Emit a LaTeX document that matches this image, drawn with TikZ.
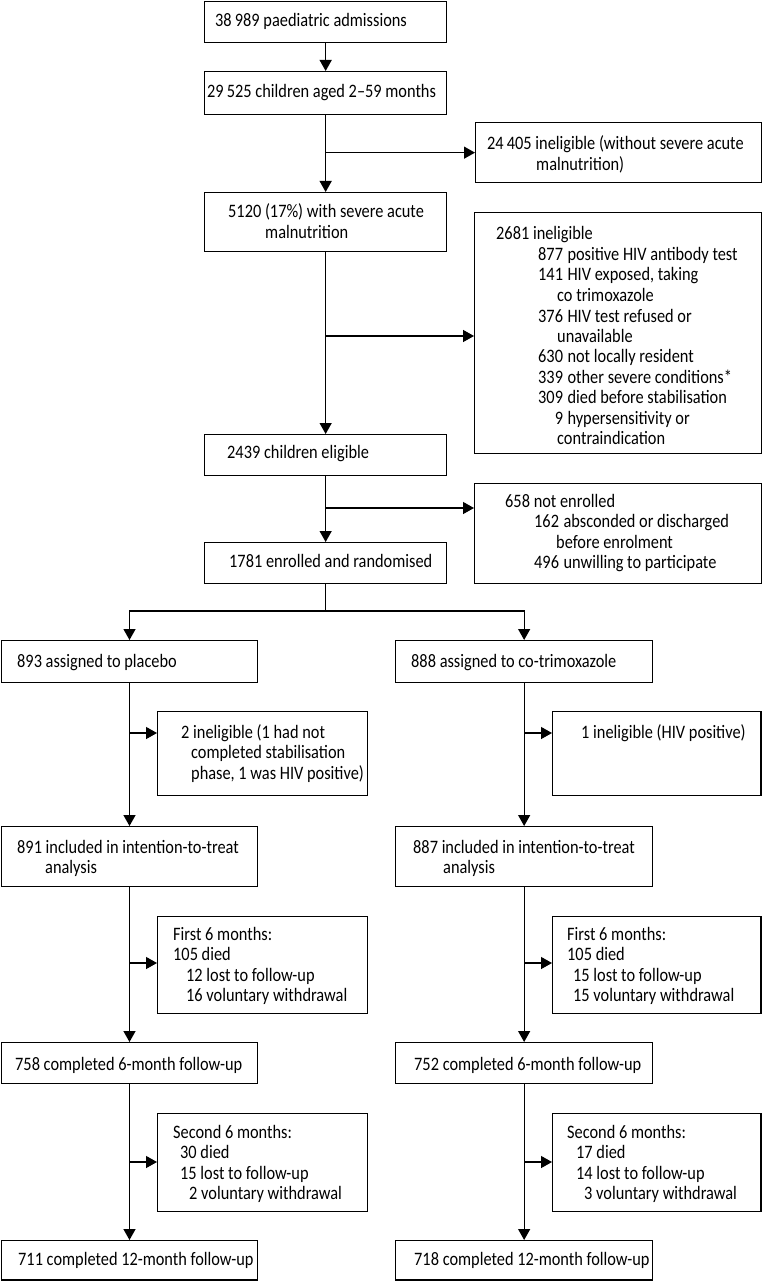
\documentclass[tikz,border=0pt]{standalone}
\usepackage{fontspec}
\setmainfont{Carlito}[FakeStretch=0.86]
\usetikzlibrary{arrows.meta}
\tikzset{
  box/.style={draw=black, line width=1.3pt, inner sep=0pt, anchor=north west},
  txt/.style={inner sep=0pt, anchor=base west, align=left},
  link/.style={draw=black, line width=1.3pt},
  arr/.style={link, -{Triangle[length=11pt,width=12pt]}}
}
\newcommand\tl[1]{\begin{tabular}[t]{@{}l@{}}#1\end{tabular}}
\begin{document}
\begin{tikzpicture}[x=1pt,y=-1pt,font=\fontsize{19}{20.5}\selectfont]
\useasboundingbox (0,0) rectangle (763,1281);
\fill[white] (0,0) rectangle (763,1281);

% ---- top column boxes ----
\node[box, minimum width=242pt, minimum height=41.3pt] (n1) at (204,0.7) {};
\node[box, minimum width=242pt, minimum height=43pt]   (n2) at (204,71) {};
\node[box, minimum width=242pt, minimum height=59pt]   (n3) at (204,192) {};
\node[box, minimum width=242pt, minimum height=41pt]   (n4) at (204,434) {};
\node[box, minimum width=242pt, minimum height=41pt]   (n5) at (204,542) {};
% ---- right exclusion boxes ----
\node[box, minimum width=286pt, minimum height=60pt]   (nA) at (475,122) {};
\node[box, minimum width=287pt, minimum height=241pt]  (nB) at (474,212) {};
\node[box, minimum width=287pt, minimum height=100pt]  (nC) at (474,483) {};
% ---- left arm ----
\node[box, minimum width=256.3pt, minimum height=42pt] (L1) at (0.7,640) {};
\node[box, minimum width=210pt, minimum height=84pt]   (LX1) at (157,711) {};
\node[box, minimum width=256.3pt, minimum height=60pt] (L2) at (0.7,826) {};
\node[box, minimum width=210pt, minimum height=97pt]   (LX2) at (157,916) {};
\node[box, minimum width=256.3pt, minimum height=41pt] (L3) at (0.7,1042) {};
\node[box, minimum width=210pt, minimum height=98pt]   (LX3) at (157,1113) {};
\node[box, minimum width=256.3pt, minimum height=39.3pt] (L4) at (0.7,1240) {};
% ---- right arm ----
\node[box, minimum width=257pt, minimum height=42pt]   (R1) at (395,640) {};
\node[box, minimum width=208.3pt, minimum height=84pt] (RX1) at (552,711) {};
\node[box, minimum width=257pt, minimum height=60pt]   (R2) at (395,826) {};
\node[box, minimum width=208.3pt, minimum height=97pt] (RX2) at (552,916) {};
\node[box, minimum width=257pt, minimum height=41pt]   (R3) at (395,1042) {};
\node[box, minimum width=208.3pt, minimum height=98pt] (RX3) at (552,1113) {};
\node[box, minimum width=257pt, minimum height=39.3pt] (R4) at (395,1240) {};

% ---- texts ----
\node[txt] (t1) at (215,27) {38\,989 paediatric admissions};
\node[txt] (t2) at (207,98) {29\,525 children aged 2–59 months};
\node[txt] (tA) at (487,150) {\tl{24\,405 ineligible (without severe acute\\\hspace*{49pt}malnutrition)}};
\node[txt] (t3) at (228,218) {\tl{5120 (17\%) with severe acute\\\hspace*{37pt}malnutrition}};
\node[txt] (tB) at (496,240) {\begin{tabular}[t]{@{\hspace{42pt}}r@{\hspace{4.5pt}}l@{}}
\multicolumn{2}{@{}l@{}}{2681 ineligible}\\
877 & positive HIV antibody test\\
141 & HIV exposed, taking\\
\multicolumn{2}{@{\hspace{61pt}}l@{}}{co trimoxazole}\\
376 & HIV test refused or\\
\multicolumn{2}{@{\hspace{61pt}}l@{}}{unavailable}\\
630 & not locally resident\\
339 & other severe conditions*\\
309 & died before stabilisation\\
9 & hypersensitivity or\\
\multicolumn{2}{@{\hspace{61pt}}l@{}}{contraindication}
\end{tabular}};
\node[txt] (t4) at (227,458) {2439 children eligible};
\node[txt] (tC) at (505,507) {\begin{tabular}[t]{@{\hspace{29pt}}r@{\hspace{4.5pt}}l@{}}
\multicolumn{2}{@{}l@{}}{658 not enrolled}\\
162 & absconded or discharged\\
\multicolumn{2}{@{\hspace{51pt}}l@{}}{before enrolment}\\
496 & unwilling to participate
\end{tabular}};
\node[txt] (t5) at (229,567) {1781 enrolled and randomised};

\node[txt] (tL1) at (17,667) {893 assigned to placebo};
\node[txt] (tR1) at (411,667) {888 assigned to co-trimoxazole};
\node[txt] (tLX1) at (181,738) {\tl{2 ineligible (1 had not\\\hspace*{10pt}completed stabilisation\\\hspace*{10pt}phase, 1 was HIV positive)}};
\node[txt] (tRX1) at (581,738) {1 ineligible (HIV positive)};
\node[txt] (tL2) at (17,853) {\tl{891 included in intention-to-treat\\\hspace*{28pt}analysis}};
\node[txt] (tR2) at (413,853) {\tl{887 included in intention-to-treat\\\hspace*{30pt}analysis}};
\node[txt] (tLX2) at (173,940) {\tl{First 6 months:\\105 died\\\hspace*{13pt}12 lost to follow-up\\\hspace*{13pt}16 voluntary withdrawal}};
\node[txt] (tRX2) at (567,940) {\tl{First 6 months:\\105 died\\\hspace*{6pt}15 lost to follow-up\\\hspace*{6pt}15 voluntary withdrawal}};
\node[txt] (tL3) at (15,1070) {758 completed 6-month follow-up};
\node[txt] (tR3) at (414,1070) {752 completed 6-month follow-up};
\node[txt] (tLX3) at (173,1138) {\tl{Second 6 months:\\\hspace*{7pt}30 died\\\hspace*{7pt}15 lost to follow-up\\\hspace*{16pt}2 voluntary withdrawal}};
\node[txt] (tRX3) at (567,1138) {\tl{Second 6 months:\\\hspace*{9pt}17 died\\\hspace*{9pt}14 lost to follow-up\\\hspace*{17pt}3 voluntary withdrawal}};
\node[txt] (tL4) at (18,1265) {711 completed 12-month follow-up};
\node[txt] (tR4) at (414,1265) {718 completed 12-month follow-up};

% ---- connectors: main column ----
\draw[arr] (n1.south) -- (n2.north);
\draw[arr] (n2.south) -- (n3.north);
\coordinate (j1) at (n2.south |- nA.west);
\draw[arr] (j1) -- (nA.west);
\draw[arr] (n3.south) -- (n4.north);
\coordinate (j2) at (n3.south |- 0,336);
\draw[arr] (j2) -- (j2 -| nB.west);
\draw[arr] (n4.south) -- (n5.north);
\coordinate (j3) at (n4.south |- 0,508);
\draw[arr] (j3) -- (j3 -| nC.west);
\coordinate (sp) at (n5.south |- 0,611);
\draw[link] (n5.south) -- (sp);
\draw[arr] (sp) -| (L1.north);
\draw[arr] (sp) -| (R1.north);

% ---- left arm ----
\draw[arr] (L1.south) -- (L2.north);
\coordinate (a1) at (L1.south |- 0,733);
\draw[arr] (a1) -- (a1 -| LX1.west);
\draw[arr] (L2.south) -- (L3.north);
\coordinate (a2) at (L2.south |- 0,963);
\draw[arr] (a2) -- (a2 -| LX2.west);
\draw[arr] (L3.south) -- (L4.north);
\coordinate (a3) at (L3.south |- 0,1162);
\draw[arr] (a3) -- (a3 -| LX3.west);

% ---- right arm ----
\draw[arr] (R1.south) -- (R2.north);
\coordinate (b1) at (R1.south |- 0,733);
\draw[arr] (b1) -- (b1 -| RX1.west);
\draw[arr] (R2.south) -- (R3.north);
\coordinate (b2) at (R2.south |- 0,963);
\draw[arr] (b2) -- (b2 -| RX2.west);
\draw[arr] (R3.south) -- (R4.north);
\coordinate (b3) at (R3.south |- 0,1162);
\draw[arr] (b3) -- (b3 -| RX3.west);
\end{tikzpicture}
\end{document}
